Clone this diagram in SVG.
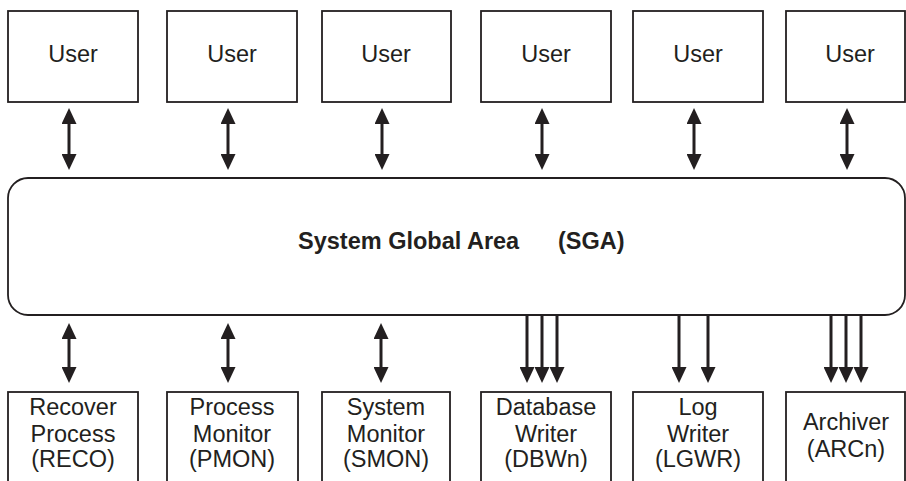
<svg xmlns="http://www.w3.org/2000/svg" width="906" height="481" viewBox="0 0 906 481">
<style>
.box{fill:#fff;stroke:#231f20;stroke-width:1.8}
.t{font-family:"Liberation Sans",Arial,Helvetica,sans-serif;font-size:23.5px;fill:#231f20;text-anchor:middle}
.b{font-weight:bold;text-anchor:start}
.c{stroke:#231f20;stroke-width:3;fill:none}
.d{marker-start:url(#ah);marker-end:url(#ah)}
.s{marker-end:url(#ah)}
</style>
<defs>
<marker id="ah" viewBox="0 0 16 15" markerWidth="16" markerHeight="15" refX="4" refY="7.5" orient="auto-start-reverse" markerUnits="userSpaceOnUse">
<path d="M0,0 L16,7.5 L0,15 z" fill="#231f20"/>
</marker>
</defs>
<rect width="906" height="481" fill="#fff"/>
<g id="user1"><rect class="box" x="8" y="11" width="130" height="91"/><text class="t" x="73" y="62">User</text></g>
<g id="user2"><rect class="box" x="167" y="11" width="130" height="91"/><text class="t" x="232" y="62">User</text></g>
<g id="user3"><rect class="box" x="322" y="11" width="129" height="91"/><text class="t" x="386" y="62">User</text></g>
<g id="user4"><rect class="box" x="481" y="11" width="130" height="91"/><text class="t" x="546" y="62">User</text></g>
<g id="user5"><rect class="box" x="633" y="11" width="130" height="91"/><text class="t" x="698" y="62">User</text></g>
<g id="user6"><rect class="box" x="786" y="11" width="119" height="91"/><text class="t" x="850" y="62">User</text></g>
<g id="sga"><rect class="box" x="8" y="178" width="897" height="137" rx="20" ry="20"/><text class="t b" x="298" y="249">System Global Area</text><text class="t b" x="558" y="249">(SGA)</text></g>
<g id="reco"><rect class="box" x="8" y="392" width="130" height="100"/><text class="t" x="73" y="415">Recover</text><text class="t" x="73" y="442">Process</text><text class="t" x="73" y="467">(RECO)</text></g>
<g id="pmon"><rect class="box" x="167" y="392" width="131" height="100"/><text class="t" x="232" y="415">Process</text><text class="t" x="232" y="442">Monitor</text><text class="t" x="232" y="467">(PMON)</text></g>
<g id="smon"><rect class="box" x="322" y="392" width="128" height="100"/><text class="t" x="386" y="415">System</text><text class="t" x="386" y="442">Monitor</text><text class="t" x="386" y="467">(SMON)</text></g>
<g id="dbwn"><rect class="box" x="481" y="392" width="130" height="100"/><text class="t" x="546" y="415">Database</text><text class="t" x="546" y="442">Writer</text><text class="t" x="546" y="467">(DBWn)</text></g>
<g id="lgwr"><rect class="box" x="633" y="392" width="130" height="100"/><text class="t" x="698" y="415">Log</text><text class="t" x="698" y="442">Writer</text><text class="t" x="698" y="467">(LGWR)</text></g>
<g id="arcn"><rect class="box" x="786" y="392" width="119" height="100"/><text class="t" x="846" y="430">Archiver</text><text class="t" x="846" y="457">(ARCn)</text></g>
<g id="connectors">
<path class="c d" d="M69,120 V158"/>
<path class="c d" d="M228,120 V158"/>
<path class="c d" d="M382,120 V158"/>
<path class="c d" d="M542,120 V158"/>
<path class="c d" d="M694,120 V158"/>
<path class="c d" d="M847,120 V158"/>
<path class="c d" d="M69,335 V371"/>
<path class="c d" d="M228,335 V371"/>
<path class="c d" d="M381,335 V371"/>
<path class="c s" d="M527,315 V371"/>
<path class="c s" d="M542,315 V371"/>
<path class="c s" d="M557,315 V371"/>
<path class="c s" d="M679,315 V371"/>
<path class="c s" d="M708,315 V371"/>
<path class="c s" d="M831,315 V371"/>
<path class="c s" d="M846,315 V371"/>
<path class="c s" d="M861,315 V371"/>
</g>
</svg>
